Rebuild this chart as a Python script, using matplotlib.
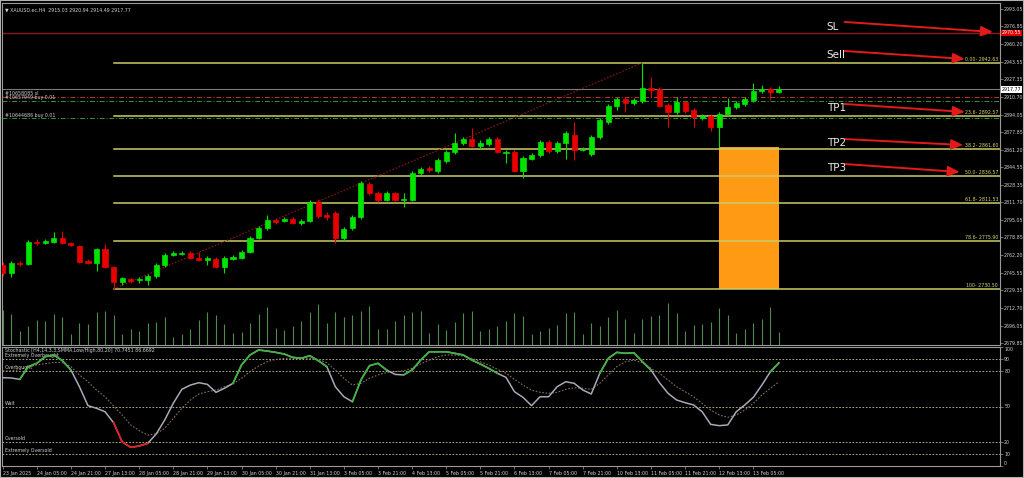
import matplotlib
matplotlib.use('Agg')
import matplotlib.pyplot as plt
from matplotlib.patches import Rectangle
from matplotlib.transforms import blended_transform_factory
import numpy as np

# XAUUSD H4 candles
opens = [2753.0, 2745.5, 2754.9, 2753.9, 2774.6, 2773.6, 2774.6, 2778.3, 2773.6, 2770.8,
         2756.8, 2754.9, 2768.0, 2751.1, 2737.1, 2739.9, 2738.9, 2738.9, 2742.7, 2753.0,
         2762.4, 2763.3, 2764.3, 2759.6, 2757.7, 2758.6, 2751.1, 2758.6, 2759.6, 2765.2,
         2778.3, 2787.7, 2795.2, 2794.3, 2796.1, 2792.4, 2794.3, 2812.1, 2799.9, 2801.8,
         2778.3, 2787.7, 2798.0, 2829.0, 2820.5, 2814.0, 2820.5, 2814.0, 2814.0, 2839.3,
         2844.0, 2841.1, 2850.5, 2859.0, 2867.4, 2871.1, 2864.6, 2866.5, 2871.1, 2858.0,
         2859.0, 2841.1, 2852.4, 2856.2, 2868.3, 2859.9, 2867.4, 2874.9, 2860.8, 2857.1,
         2873.0, 2887.1, 2902.1, 2908.7, 2904.9, 2906.8, 2919.0, 2918.0, 2903.0, 2896.5,
         2905.8, 2898.3, 2890.8, 2892.7, 2882.4, 2894.6, 2901.2, 2904.0, 2907.7, 2916.2,
         2918.0, 2915.03]
highs = [2755.8, 2756.8, 2756.8, 2776.4, 2777.4, 2777.4, 2784.0, 2784.9, 2774.6, 2771.8,
         2758.6, 2769.0, 2772.7, 2752.1, 2741.8, 2740.8, 2741.8, 2744.6, 2754.9, 2764.3,
         2766.1, 2766.1, 2766.1, 2765.2, 2761.4, 2760.5, 2761.4, 2762.4, 2767.1, 2780.2,
         2789.6, 2799.9, 2797.1, 2798.0, 2798.0, 2796.1, 2814.0, 2814.9, 2802.7, 2803.6,
         2788.6, 2799.9, 2831.8, 2830.8, 2822.4, 2822.4, 2821.4, 2820.5, 2841.1, 2844.9,
         2845.8, 2853.3, 2860.8, 2876.8, 2873.0, 2881.5, 2870.2, 2873.0, 2873.0, 2860.8,
         2860.8, 2855.2, 2858.0, 2870.2, 2870.2, 2869.3, 2878.7, 2887.1, 2863.7, 2874.9,
         2890.8, 2904.0, 2910.5, 2910.5, 2909.6, 2942.63, 2929.3, 2919.9, 2904.9, 2910.5,
         2907.7, 2900.2, 2894.6, 2894.6, 2896.5, 2909.6, 2906.8, 2910.5, 2923.7, 2921.8,
         2919.9, 2920.94]
lows = [2742.7, 2741.8, 2752.1, 2753.0, 2771.8, 2772.7, 2773.6, 2772.7, 2770.8, 2754.9,
        2753.9, 2747.4, 2750.2, 2730.5, 2734.3, 2736.1, 2736.1, 2734.3, 2740.8, 2751.1,
        2761.4, 2762.4, 2758.6, 2756.8, 2753.0, 2750.2, 2745.5, 2757.7, 2758.6, 2764.3,
        2777.4, 2785.8, 2791.5, 2793.3, 2791.5, 2790.5, 2793.3, 2797.1, 2795.2, 2773.6,
        2775.5, 2785.8, 2796.1, 2818.6, 2812.1, 2813.0, 2813.0, 2807.4, 2813.0, 2837.4,
        2840.2, 2839.3, 2848.6, 2857.1, 2865.5, 2863.7, 2861.8, 2864.6, 2858.0, 2848.6,
        2840.2, 2834.6, 2851.5, 2854.3, 2858.0, 2858.0, 2852.4, 2851.5, 2859.9, 2855.2,
        2871.1, 2885.2, 2898.3, 2896.5, 2903.0, 2904.9, 2910.5, 2901.2, 2882.4, 2894.6,
        2895.5, 2882.4, 2889.0, 2878.7, 2863.7, 2892.7, 2899.3, 2902.1, 2905.8, 2914.3,
        2907.7, 2914.49]
closes = [2745.5, 2754.9, 2753.9, 2774.6, 2773.6, 2775.5, 2778.3, 2773.6, 2771.8, 2755.8,
          2754.9, 2768.0, 2751.1, 2737.1, 2740.8, 2738.0, 2739.9, 2742.7, 2753.0, 2762.4,
          2764.3, 2764.3, 2759.6, 2757.7, 2759.6, 2751.1, 2759.6, 2760.5, 2765.2, 2778.3,
          2787.7, 2795.2, 2793.3, 2796.1, 2792.4, 2794.3, 2812.1, 2798.9, 2798.0, 2778.3,
          2786.8, 2798.0, 2829.9, 2820.5, 2814.0, 2820.5, 2814.0, 2814.9, 2839.3, 2843.0,
          2842.1, 2851.5, 2859.0, 2867.4, 2871.1, 2864.6, 2867.4, 2871.1, 2859.0, 2859.0,
          2841.1, 2853.3, 2856.2, 2868.3, 2859.9, 2867.4, 2876.8, 2860.8, 2861.8, 2873.0,
          2889.0, 2902.1, 2908.7, 2904.9, 2907.7, 2919.0, 2917.1, 2902.1, 2896.5, 2905.8,
          2897.4, 2891.8, 2892.7, 2882.4, 2894.6, 2901.2, 2904.9, 2908.7, 2916.2, 2918.0,
          2915.2, 2917.77]
volumes = [35000, 31000, 14300, 19000, 25000, 24300, 31000, 28000, 11000, 22300,
           21000, 33300, 34300, 30000, 11000, 16000, 14300, 22300, 23300, 28300,
           8000, 11000, 16000, 25000, 33300, 30000, 21000, 12300, 13000, 22300,
           31000, 38300, 17000, 15000, 19000, 24000, 32700, 41000, 22300, 32700,
           28000, 30500, 34000, 39000, 16500, 16500, 24500, 30500, 33000, 34500,
           12500, 21500, 15500, 23000, 32500, 34500, 14000, 16500, 19500, 24500,
           32500, 29000, 11500, 14500, 17000, 20000, 32500, 33000, 11500, 22500,
           19000, 28000, 35500, 26500, 12000, 26500, 29000, 30500, 42500, 32500,
           14500, 20500, 21500, 23000, 37000, 30500, 12500, 16500, 22500, 26500,
           38000, 13000]

# stochastic main / signal
stoch_main = [74.2, 74.0, 72.8, 83.5, 86.3, 91.9, 93.3, 88.5, 80.7, 66.6,
              50.7, 48.5, 45.6, 36.4, 20.4, 15.7, 16.8, 19.0, 26.9, 38.7,
              52.7, 64.4, 68.0, 70.0, 68.6, 61.9, 65.3, 69.5, 84.9, 93.3,
              97.5, 96.6, 95.5, 94.1, 91.3, 90.5, 92.7, 88.5, 83.5, 66.6,
              58.2, 54.0, 72.3, 84.3, 86.3, 80.7, 77.0, 76.5, 80.7, 89.0,
              96.0, 96.0, 96.0, 94.7, 93.3, 89.0, 85.7, 82.0, 77.9, 74.5,
              62.4, 57.7, 50.7, 58.2, 58.2, 66.6, 70.8, 69.5, 63.9, 60.5,
              77.9, 90.5, 95.5, 94.7, 95.2, 87.6, 80.7, 70.0, 61.1, 55.5,
              53.2, 51.3, 45.6, 35.0, 33.9, 34.5, 45.6, 51.3, 57.7, 68.0,
              79.2, 86.67]
stoch_signal = [80.0, 80.0, 81.0, 83.0, 85.0, 86.0, 87.0, 87.0, 83.5, 76.5,
                70.9, 63.8, 58.2, 50.4, 42.9, 34.5, 29.8, 26.0, 27.0, 31.7,
                40.0, 48.5, 55.4, 60.5, 62.4, 63.8, 66.6, 68.9, 73.7, 79.3,
                84.0, 87.6, 89.6, 90.5, 90.5, 90.5, 90.5, 89.6, 86.8, 80.7,
                73.7, 68.0, 69.5, 73.7, 76.5, 78.6, 79.3, 80.1, 82.1, 85.8,
                89.0, 91.9, 93.3, 93.3, 92.4, 90.5, 87.6, 84.9, 81.3, 77.9,
                72.8, 68.0, 63.8, 61.9, 61.1, 61.9, 64.4, 65.8, 65.3, 64.4,
                69.5, 76.5, 83.5, 87.6, 89.0, 86.8, 82.1, 77.9, 72.3, 66.6,
                62.4, 58.2, 52.6, 47.0, 42.9, 40.9, 42.9, 47.0, 52.6, 59.6,
                65.3, 70.75]
green_spans = [(2, 8), (27, 38), (41, 45), (47, 58), (70, 76), (90, 91)]
red_spans = [(13, 17)]

time_labels = ['23 Jan 2025', '24 Jan 05:00', '24 Jan 21:00', '27 Jan 13:00', '28 Jan 05:00',
               '28 Jan 21:00', '29 Jan 13:00', '30 Jan 05:00', '30 Jan 21:00', '31 Jan 13:00',
               '3 Feb 05:00', '3 Feb 21:00', '4 Feb 13:00', '5 Feb 05:00', '5 Feb 21:00',
               '6 Feb 13:00', '7 Feb 05:00', '7 Feb 21:00', '10 Feb 13:00', '11 Feb 05:00',
               '11 Feb 21:00', '12 Feb 13:00', '13 Feb 05:00']
price_ticks = [2993.05, 2976.85, 2960.20, 2943.55, 2927.35, 2910.70, 2894.05, 2877.85,
               2861.20, 2844.55, 2828.35, 2811.70, 2795.05, 2778.85, 2762.20, 2745.55,
               2729.35, 2712.70, 2696.05, 2679.85]

fib_names = ['0.00', '23.6', '38.2', '50.0', '61.8', '78.6', '100']
fib_prices = [2942.63, 2892.57, 2861.60, 2836.57, 2811.53, 2775.90, 2730.50]
fib_low_bar, fib_high_bar = 13, 75
sl_price = 2970.55
bid_price = 2917.77
order_names = ['#10658085 sl', '#10657949 buy 0.01', '#10644686 buy 0.01']
order_prices = [2910.80, 2907.10, 2890.60]
order_colors = ['#c83232', '#2e9a2e', '#2e9a2e']
zone_bars = (84, 91)
zone_prices = (2863.7, 2730.50)

# signal annotations: text, arrow start (bar, price), arrow end (bar, price)
sig_names = ['SL', 'Sell', 'TP1', 'TP2', 'TP3']
sig_start = [(98.7, 2980.9), (98.7, 2953.7), (98.7, 2904.0), (98.7, 2871.1), (98.7, 2847.7)]
sig_end = [(116.1, 2971.5), (112.8, 2946.2), (112.8, 2896.5), (112.6, 2865.5), (112.2, 2840.2)]
sig_text_y = [2976.2, 2949.9, 2900.2, 2867.4, 2843.9]

stoch_levels = [90, 80, 50, 20, 10]
stoch_level_names = ['Extremely Overbought', 'Overbought', 'Wait', 'Oversold', 'Extremely Oversold']

W, H = 1024, 478
fig = plt.figure(figsize=(W / 100, H / 100), dpi=100, facecolor='black')
txt = '#d0d0d0'
frame = '#9a9a9a'
fs = 3.4

def px_ax(x0, y0, x1, y1):
    return fig.add_axes([x0 / W, 1 - y1 / H, (x1 - x0) / W, (y1 - y0) / H])

ax = px_ax(2, 3, 1000, 345)
ax2 = px_ax(2, 347, 1000, 466)
for a in (ax, ax2):
    a.set_facecolor('black')
    for s in a.spines.values():
        s.set_color(frame)
        s.set_linewidth(0.8)

n = len(opens)
x = np.arange(n)
ax.set_xlim(-0.08, 116.92)
ax2.set_xlim(-0.08, 116.92)
ax.set_ylim(2677.99, 2998.68)
ax2.set_ylim(0, 100)

# volumes at the bottom of the price window
bt = blended_transform_factory(ax.transData, ax.transAxes)
ax.vlines(x, 0, np.array(volumes) / 342000, transform=bt, color='#4f8a4f', lw=0.8, zorder=1)

# fibonacci
for name, p in zip(fib_names, fib_prices):
    ax.plot([fib_low_bar, 116.92], [p, p], color='#cccc66', lw=1.1, zorder=2)
    ax.text(116.7, p + 0.8, f'{name}- {p:.2f}', color='#d6d66e', fontsize=fs,
            ha='right', va='bottom', zorder=5)
ax.plot([fib_low_bar, fib_high_bar], [fib_prices[-1], fib_prices[0]], color='#8b1a1a',
        lw=0.8, ls=(0, (1.5, 1.5)), zorder=2)

# order lines
ax.axhline(sl_price, color='#8b1a1a', lw=1.0, zorder=2)
ax.axhline(bid_price, color='#7a7a7a', lw=0.8, zorder=2)
for name, p, c in zip(order_names, order_prices, order_colors):
    ax.axhline(p, color=c, lw=0.7, ls=(0, (5, 2, 1, 2)), zorder=2)
    ax.text(0.3, p + 0.6, name, color=txt, fontsize=fs, va='bottom', ha='left', zorder=5)

# zone
ax.add_patch(Rectangle((zone_bars[0], zone_prices[1]), zone_bars[1] - zone_bars[0],
                       zone_prices[0] - zone_prices[1], facecolor='#ff9a14', edgecolor='none', zorder=1.5))

# candles
up = np.array(closes) >= np.array(opens)
cols = np.where(up, '#00e400', '#e80000')
ax.vlines(x, lows, highs, color=cols, lw=0.8, zorder=3)
bottoms = np.minimum(opens, closes)
heights = np.abs(np.array(closes) - np.array(opens))
ax.bar(x, heights, 0.6, bottom=bottoms, color=cols, edgecolor=cols, lw=0.5, zorder=4)

# price axis
ax.yaxis.tick_right()
ax.set_yticks(price_ticks)
ax.set_yticklabels([f'{v:.2f}' for v in price_ticks])
ax.tick_params(axis='y', length=2, width=0.5, colors=frame, labelcolor=txt, labelsize=fs, pad=1)
ax.set_xticks([])
rt = blended_transform_factory(ax.transAxes, ax.transData)
ax.text(1.002, sl_price, f'{sl_price:.2f}', transform=rt, fontsize=fs, color='white', va='center',
        ha='left', bbox=dict(boxstyle='square,pad=0.2', fc='#e00000', ec='none'), clip_on=False, zorder=10)
ax.text(1.002, bid_price, f'{bid_price:.2f}', transform=rt, fontsize=fs, color='black', va='center',
        ha='left', bbox=dict(boxstyle='square,pad=0.2', fc='white', ec='none'), clip_on=False, zorder=10)

# signal arrows
for name, s, e, ty in zip(sig_names, sig_start, sig_end, sig_text_y):
    ax.annotate('', xy=e, xytext=s,
                arrowprops=dict(arrowstyle='-|>,head_length=0.7,head_width=0.3', color='#e21a1a',
                                lw=1.4, shrinkA=0, shrinkB=0), zorder=6)
    ax.text(96.6, ty, name, color='#e8e8e8', fontsize=7.5, va='center', ha='left', zorder=6)

ax.text(0.003, 0.988, '\u25bc XAUUSD.ec,H4  2915.03 2920.94 2914.49 2917.77', transform=ax.transAxes,
        color=txt, fontsize=fs, va='top', ha='left')

# stochastic
for lv in stoch_levels:
    ax2.axhline(lv, color='#c8c896', lw=0.6, ls=(0, (2, 2)), zorder=1)
for lv, name in zip(stoch_levels, stoch_level_names):
    ax2.text(0.3, lv + 0.8, name, color=txt, fontsize=fs, va='bottom', ha='left')
ax2.plot(x, stoch_signal, color='#8a6a6a', lw=0.8, ls=(0, (1.5, 1.5)), zorder=2)
ax2.plot(x, stoch_main, color='#a8a8b8', lw=1.1, zorder=3)
for a, b in green_spans:
    ax2.plot(x[a:b + 1], stoch_main[a:b + 1], color='#3cb43c', lw=1.2, zorder=4)
for a, b in red_spans:
    ax2.plot(x[a:b + 1], stoch_main[a:b + 1], color='#e81818', lw=1.2, zorder=4)
ax2.text(0.003, 0.995, 'Stochastic [H4,14,3,3,SMMA,Low/High,80,20] 70.7451 86.6692',
         transform=ax2.transAxes, color=txt, fontsize=fs, va='top', ha='left')

ax2.yaxis.tick_right()
ax2.set_yticks([0, 10, 20, 50, 80, 90, 100])
ax2.set_yticklabels(['0', '10', '20', '50', '80', '90', '100'])
ax2.tick_params(axis='y', length=2, width=0.5, colors=frame, labelcolor=txt, labelsize=fs, pad=1)
for lab in ax2.get_yticklabels():
    if lab.get_text() == '100':
        lab.set_va('top')
    elif lab.get_text() == '0':
        lab.set_va('bottom')

ax2.set_xticks(np.arange(0, n, 4))
ax2.set_xticklabels(time_labels, ha='left')
ax2.tick_params(axis='x', length=2.5, width=0.5, colors=frame, labelcolor=txt, labelsize=fs, pad=1)

fig.add_artist(Rectangle((0, 0), 1, 1, transform=fig.transFigure, fill=False, ec='#b0b0b0', lw=1.5))

fig.savefig('out.png', dpi=100, facecolor='black')
